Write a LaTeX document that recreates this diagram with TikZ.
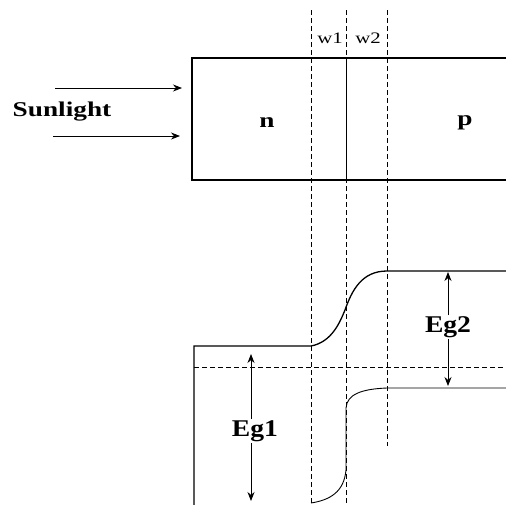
\documentclass[tikz,border=0pt]{standalone}
\usepackage{graphicx}
\usepackage{fontspec}
\setmainfont{Liberation Serif}
\usetikzlibrary{arrows.meta}
\newcommand{\wide}[1]{\scalebox{1.3}[1]{#1}}
\newcommand{\widish}[1]{\scalebox{1.15}[1]{#1}}
\begin{document}
\begin{tikzpicture}[x=1pt,y=-1pt,
  solidline/.style={line width=1.3pt, black},
  thinline/.style={line width=0.9pt, black},
  dashline/.style={line width=0.9pt, dash pattern=on 5pt off 3pt},
  arr/.style={line width=0.8pt, -{Stealth[length=9pt,width=7pt]}},
  lbl/.style={font=\fontsize{21}{24}\selectfont\bfseries, inner sep=1pt},
  eglbl/.style={font=\fontsize{24}{26}\selectfont\bfseries, inner sep=1pt},
  wlbl/.style={font=\fontsize{16}{18}\selectfont, inner sep=1pt},
  ]
\useasboundingbox (0,0) rectangle (506,504);
\clip (0,0) rectangle (506,504);

% ---- top: device
\coordinate (boxTR) at (510,58);
\coordinate (boxTL) at (192,58);
\coordinate (boxBL) at (192,180);
\coordinate (boxBR) at (510,180);
\draw[solidline] (boxTR) -- (boxTL) -- (boxBL) -- (boxBR);
\coordinate (junT) at (346,58);
\coordinate (junB) at (346,180);
\draw[thinline] (junT) -- (junB);

\node[lbl] (n) at (267,123) {\wide{n}};
\node[lbl] (p) at (465,123) {\wide{p}};

\node[lbl] (sun) at (62,112) {\wide{Sunlight}};
\coordinate (a1s) at (55,88);  \coordinate (a1e) at (182,88);
\coordinate (a2s) at (53,136); \coordinate (a2e) at (180,136);
\draw[arr] (a1s) -- (a1e);
\draw[arr] (a2s) -- (a2e);

\node[wlbl] (w1) at (330,38) {\wide{w1}};
\node[wlbl] (w2) at (368,38) {\wide{w2}};

% ---- dashed guides
\coordinate (d1t) at (311,10); \coordinate (d1b) at (311,510);
\coordinate (d2t) at (346,10); \coordinate (d2b) at (346,510);
\coordinate (d3t) at (387,10); \coordinate (d3b) at (387,446);
\draw[dashline] (d1t) -- (d1b);
\draw[dashline] (d2t) -- (d2b);
\draw[dashline] (d3t) -- (d3b);
\coordinate (fl) at (194,367); \coordinate (fr) at (510,367);
\draw[dashline] (fl) -- (fr);

% ---- band diagram
\coordinate (cbL) at (194,510);
\coordinate (cbLT) at (194,346);
\coordinate (cb1) at (311,346);
\coordinate (cbK) at (345,310);
\coordinate (cb2) at (387,271);
\coordinate (cbR) at (510,271);
\draw[solidline] (cbL) -- (cbLT) -- (cb1)
  .. controls (332,342) and (340,322) .. (cbK)
  .. controls (352,290) and (362,271) .. (cb2) -- (cbR);

\coordinate (vbR) at (510,388);
\coordinate (vb2) at (387,388);
\coordinate (vbK) at (346,408);
\coordinate (vbK2) at (346,470);
\coordinate (vb1) at (311,503);
\draw[thinline] (vbR) -- (vb2)
  .. controls (362,389) and (347,394) .. (vbK) -- (vbK2)
  .. controls (344,492) and (330,500) .. (vb1);

% ---- gap arrows
\node[eglbl] (eg2) at (448,327) {\widish{Eg2}};
\coordinate (eg2t) at (448,272);
\coordinate (eg2b) at (448,386);
\draw[arr] (eg2.north) -- (eg2t);
\draw[arr] (eg2.south) -- (eg2b);

\node[eglbl] (eg1) at (255,431) {\widish{Eg1}};
\coordinate (eg1t) at (251,354);
\coordinate (eg1b) at (251,501);
\draw[arr] (eg1.north -| eg1t) -- (eg1t);
\draw[arr] (eg1.south -| eg1b) -- (eg1b);
\end{tikzpicture}
\end{document}
